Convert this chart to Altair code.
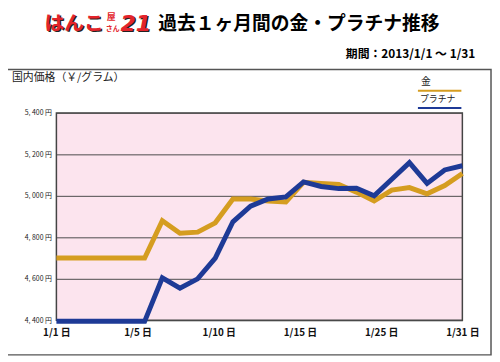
import altair as alt
import pandas as pd

# ---- data ----
idx = list(range(24))
gold = [4700, 4700, 4700, 4700, 4700, 4700, 4880, 4820, 4825, 4870, 4985, 4985,
        4975, 4970, 5065, 5060, 5055, 5018, 4975, 5028, 5040, 5010, 5050, 5108]
platinum = [4395, 4395, 4395, 4395, 4395, 4395, 4605, 4555, 4600, 4700, 4875, 4950,
            4985, 4995, 5067, 5045, 5035, 5037, 5000, 5080, 5160, 5060, 5125, 5145]
x_labels = ["1/1 日", "1/5 日", "1/10 日", "1/15 日", "1/25 日", "1/31 日"]
y_ticks = [4400, 4600, 4800, 5000, 5200, 5400]

df = pd.DataFrame({"idx": idx, "gold": gold, "platinum": platinum})

FONT = "Noto Sans CJK JP"
GOLD = "#D59D20"
BLUE = "#1E3A96"
OX, OY = 57, 112  # page position of plot origin

n = len(idx) - 1
x_tick_pos = [i * n / (len(x_labels) - 1) for i in range(len(x_labels))]
step = n / (len(x_labels) - 1)
label_expr = "[" + ",".join("'%s'" % s for s in x_labels) + "][round(datum.value/%f)]" % step

x_enc = alt.X("idx:Q", scale=alt.Scale(domain=[0, n], nice=False, zero=False),
              axis=alt.Axis(values=x_tick_pos, labelExpr=label_expr, title=None, grid=False,
                            ticks=False, domain=False, labelFontWeight="bold", labelFontSize=10,
                            labelPadding=7, labelFlush=False, labelColor="#111", labelFont=FONT))
y_scale = alt.Scale(domain=[4400, 5400], nice=False, zero=False)
y_axis = alt.Axis(values=y_ticks, labelExpr="replace(format(datum.value, ','), ',', ', ') + ' 円'",
                  title=None, grid=True, gridColor="#4a4a4a", gridWidth=1, ticks=False, domain=False,
                  labelFontSize=7, labelPadding=5, labelColor="#222", labelFont=FONT)

base = alt.Chart(df)
gold_line = base.mark_line(color=GOLD, strokeWidth=5, strokeJoin="miter").encode(
    x=x_enc, y=alt.Y("gold:Q", scale=y_scale, axis=y_axis))
plat_line = base.mark_line(color=BLUE, strokeWidth=5, strokeJoin="miter").encode(
    x="idx:Q", y=alt.Y("platinum:Q", scale=y_scale))


def one():
    return alt.Chart(alt.Data(values=[{}]))


def txt(s, px, py, size, color="#000", weight="normal", align="left", fstyle="normal", font=FONT):
    return one().mark_text(text=s, fontSize=size, color=color, fontWeight=weight, align=align,
                           baseline="middle", font=font, fontStyle=fstyle).encode(
        x=alt.value(px - OX), y=alt.value(py - OY))


box = one().mark_rect(filled=False, stroke="#555", strokeWidth=1.5).encode(
    x=alt.value(3 - OX), x2=alt.value(497 - OX), y=alt.value(68 - OY), y2=alt.value(357 - OY))

leg_gold = one().mark_rule(color=GOLD, strokeWidth=2).encode(
    x=alt.value(423 - OX), x2=alt.value(467 - OX), y=alt.value(89.5 - OY))
leg_blue = one().mark_rule(color=BLUE, strokeWidth=2).encode(
    x=alt.value(423 - OX), x2=alt.value(467 - OX), y=alt.value(107 - OY))

RED = "#E3242B"
layers = [
    gold_line, plat_line, box, leg_gold, leg_blue,
    # logo
    txt("はんこ", 46.5, 23.5, 20, color="#222", weight="bold"),
    txt("はんこ", 45, 22, 20, color=RED, weight="bold"),
    txt("屋", 108, 15, 9, color=RED, weight="bold"),
    txt("さん", 107, 27, 7, color=RED, weight="bold"),
    txt("21", 123.5, 23.5, 22, color="#222", weight="bold", fstyle="italic", font="DejaVu Sans"),
    txt("21", 122, 22, 22, color=RED, weight="bold", fstyle="italic", font="DejaVu Sans"),
    # titles
    txt("過去１ヶ月間の金・プラチナ推移", 160, 22, 19, weight="bold"),
    txt("期間：2013/1/1 〜 1/31", 481, 52, 12, weight="bold", align="right"),
    txt("国内価格（￥/グラム）", 12, 77, 11, color="#222"),
    txt("金", 426, 81, 10, color="#222"),
    txt("プラチナ", 425, 98, 9, color="#222"),
]

chart = alt.layer(*layers).properties(
    width=411, height=210,
    padding={"left": 49, "top": 104, "right": 30, "bottom": 37},
    autosize=alt.AutoSizeParams(type="none"),
    background="white",
).configure_view(fill="#FCE4EE", stroke="#444", strokeWidth=1.5)

chart.save("out.html", embed_options={"renderer": "svg", "actions": False})
